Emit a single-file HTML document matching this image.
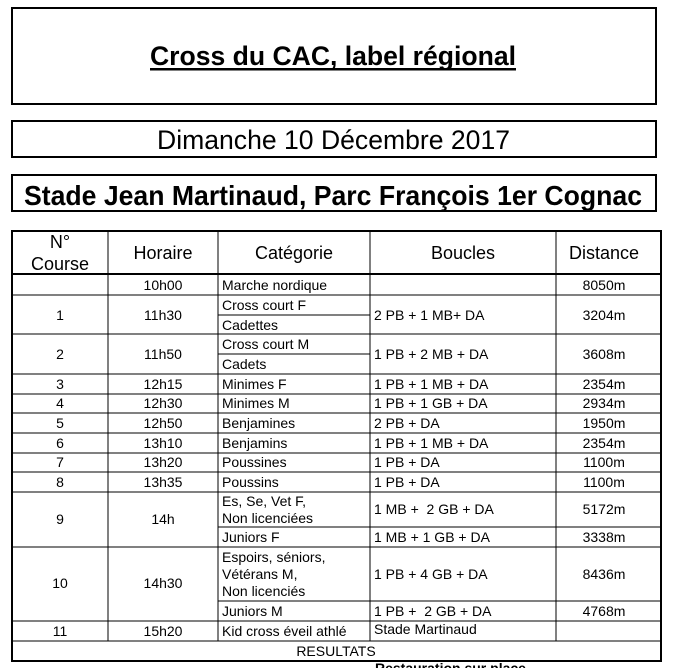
<!DOCTYPE html>
<html><head><meta charset="utf-8"><style>
html,body{margin:0;padding:0;background:#fff;}
svg{display:block;}
text{font-family:"Liberation Sans",sans-serif;fill:#000;}
</style></head><body>
<svg width="674" height="668" viewBox="0 0 674 668" xmlns="http://www.w3.org/2000/svg">
<g fill="none" stroke="#000" stroke-width="2">
<rect x="12" y="8" width="644" height="96"/>
<rect x="12" y="121" width="644" height="36"/>
<rect x="12" y="175" width="644" height="36"/>
<rect x="12" y="231" width="649" height="430"/>
</g>
<text x="150" y="65" font-size="27" font-weight="bold" textLength="366" lengthAdjust="spacingAndGlyphs">Cross du CAC, label régional</text>
<rect x="150" y="68" width="366" height="2.5" fill="#000"/>
<text x="157" y="149" font-size="27" textLength="353" lengthAdjust="spacingAndGlyphs">Dimanche 10 Décembre 2017</text>
<text x="24" y="205" font-size="28" font-weight="bold" textLength="618" lengthAdjust="spacingAndGlyphs">Stade Jean Martinaud, Parc François 1er Cognac</text>
<g stroke="#000" stroke-width="1">
<line x1="12" y1="274" x2="661" y2="274" stroke-width="2"/>
<line x1="108" y1="231" x2="108" y2="641"/>
<line x1="218" y1="231" x2="218" y2="641"/>
<line x1="370" y1="231" x2="370" y2="641"/>
<line x1="556" y1="231" x2="556" y2="641"/>
<line x1="12" y1="295" x2="661" y2="295"/>
<line x1="218" y1="315" x2="370" y2="315"/>
<line x1="12" y1="334" x2="661" y2="334"/>
<line x1="218" y1="354" x2="370" y2="354"/>
<line x1="12" y1="374" x2="661" y2="374"/>
<line x1="12" y1="394" x2="661" y2="394"/>
<line x1="12" y1="413" x2="661" y2="413"/>
<line x1="12" y1="433" x2="661" y2="433"/>
<line x1="12" y1="453" x2="661" y2="453"/>
<line x1="12" y1="472" x2="661" y2="472"/>
<line x1="12" y1="492" x2="661" y2="492"/>
<line x1="218" y1="527" x2="661" y2="527"/>
<line x1="12" y1="547" x2="661" y2="547"/>
<line x1="218" y1="601" x2="661" y2="601"/>
<line x1="12" y1="621" x2="661" y2="621"/>
<line x1="12" y1="641" x2="661" y2="641"/>
</g>
<g font-size="18" text-anchor="middle">
<text x="60" y="248">N°</text>
<text x="60" y="270">Course</text>
<text x="163" y="259">Horaire</text>
<text x="294" y="259">Catégorie</text>
<text x="463" y="259">Boucles</text>
<text x="604" y="259">Distance</text>
</g>
<g font-size="14" text-anchor="middle">
<text x="163" y="290">10h00</text><text x="604" y="290">8050m</text>
<text x="60" y="320">1</text><text x="163" y="320">11h30</text><text x="604" y="320">3204m</text>
<text x="60" y="359">2</text><text x="163" y="359">11h50</text><text x="604" y="359">3608m</text>
<text x="60" y="389">3</text><text x="163" y="389">12h15</text><text x="604" y="389">2354m</text>
<text x="60" y="408">4</text><text x="163" y="408">12h30</text><text x="604" y="408">2934m</text>
<text x="60" y="428">5</text><text x="163" y="428">12h50</text><text x="604" y="428">1950m</text>
<text x="60" y="448">6</text><text x="163" y="448">13h10</text><text x="604" y="448">2354m</text>
<text x="60" y="467">7</text><text x="163" y="467">13h20</text><text x="604" y="467">1100m</text>
<text x="60" y="487">8</text><text x="163" y="487">13h35</text><text x="604" y="487">1100m</text>
<text x="60" y="524">9</text><text x="163" y="524">14h</text><text x="604" y="514">5172m</text>
<text x="604" y="542">3338m</text>
<text x="60" y="588">10</text><text x="163" y="588">14h30</text><text x="604" y="579">8436m</text>
<text x="604" y="616">4768m</text>
<text x="60" y="636">11</text><text x="163" y="636">15h20</text>
<text x="336" y="656">RESULTATS</text>
</g>
<g font-size="14">
<text x="222" y="290">Marche nordique</text>
<text x="222" y="310">Cross court F</text><text x="222" y="330">Cadettes</text>
<text x="374" y="320">2 PB + 1 MB+ DA</text>
<text x="222" y="349">Cross court M</text><text x="222" y="369">Cadets</text>
<text x="374" y="359">1 PB + 2 MB + DA</text>
<text x="222" y="389">Minimes F</text><text x="374" y="389">1 PB + 1 MB + DA</text>
<text x="222" y="408">Minimes M</text><text x="374" y="408">1 PB + 1 GB + DA</text>
<text x="222" y="428">Benjamines</text><text x="374" y="428">2 PB + DA</text>
<text x="222" y="448">Benjamins</text><text x="374" y="448">1 PB + 1 MB + DA</text>
<text x="222" y="467">Poussines</text><text x="374" y="467">1 PB + DA</text>
<text x="222" y="487">Poussins</text><text x="374" y="487">1 PB + DA</text>
<text x="222" y="506">Es, Se, Vet F,</text><text x="222" y="523">Non licenciées</text>
<text x="374" y="514" xml:space="preserve">1 MB +  2 GB + DA</text>
<text x="222" y="542">Juniors F</text><text x="374" y="542">1 MB + 1 GB + DA</text>
<text x="222" y="562">Espoirs, séniors,</text><text x="222" y="579">Vétérans M,</text><text x="222" y="596">Non licenciés</text>
<text x="374" y="579">1 PB + 4 GB + DA</text>
<text x="222" y="616">Juniors M</text><text x="374" y="616" xml:space="preserve">1 PB +  2 GB + DA</text>
<text x="222" y="636">Kid cross éveil athlé</text><text x="374" y="634">Stade Martinaud</text>
</g>
<text x="375" y="673" font-size="14" font-weight="bold">Restauration sur place</text>
</svg>
</body></html>
